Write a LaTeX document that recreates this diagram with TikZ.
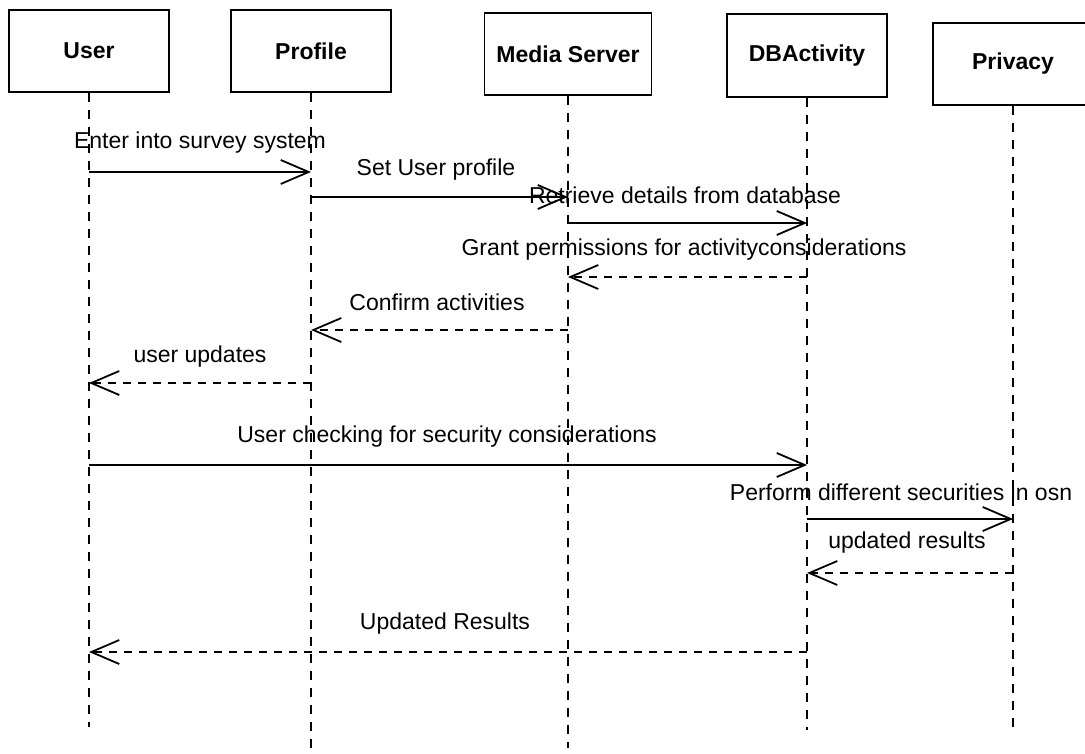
\documentclass[tikz,border=0pt]{standalone}
\usepackage{fontspec}
\setmainfont{Liberation Sans}
\usetikzlibrary{arrows.meta}
\begin{document}
\begin{tikzpicture}[x=1pt,y=-1pt,
  actor/.style={draw, line width=1.6pt, minimum width=160pt, minimum height=82pt, inner sep=0pt,
    font=\fontsize{23}{26}\selectfont\bfseries, fill=white},
  life/.style={line width=1.8pt, dash pattern=on 9pt off 8pt},
  msgtxt/.style={font=\fontsize{23}{26}\selectfont, inner sep=0pt, fill=none},
  sync/.style={line width=1.8pt, -{Straight Barb[length=28pt,width=24pt,line width=1.8pt]}},
  reply/.style={line width=1.8pt, dash pattern=on 8pt off 7pt, -{Straight Barb[length=28pt,width=24pt,line width=1.8pt]}}
]
\useasboundingbox (0,0) rectangle (1085,754);

% actors
\node[actor] (user) at (89,51) {User};
\node[actor] (prof) at (311,51) {Profile};
\node[actor, minimum width=167pt] (media) at (568,54) {Media Server};
\node[actor, minimum height=83pt] (db) at (807,55.5) {DBActivity};
\node[actor] (priv) at (1013,64) {Privacy};

% lifeline ends
\coordinate (uEnd) at (89,727);
\coordinate (pEnd) at (311,748);
\coordinate (mEnd) at (568,748);
\coordinate (dEnd) at (807,730);
\coordinate (vEnd) at (1013,733);

\draw[life] (user.south) -- (uEnd);
\draw[life] (prof.south) -- (pEnd);
\draw[life] (media.south) -- (mEnd);
\draw[life] (db.south) -- (dEnd);
\draw[life] (priv.south) -- (vEnd);

% message levels
\coordinate (m1) at (0,172);
\coordinate (m2) at (0,197);
\coordinate (m3) at (0,223);
\coordinate (m4) at (0,277);
\coordinate (m5) at (0,330);
\coordinate (m6) at (0,383);
\coordinate (m7) at (0,465);
\coordinate (m8) at (0,519);
\coordinate (m9) at (0,573);
\coordinate (m10) at (0,652);

\draw[sync] (user.south |- m1) -- (prof.south |- m1);
\draw[sync] (prof.south |- m2) -- (media.south |- m2);
\draw[sync] (media.south |- m3) -- (db.south |- m3);
\draw[reply] (db.south |- m4) -- (media.south |- m4);
\draw[reply] (media.south |- m5) -- (prof.south |- m5);
\draw[reply] (prof.south |- m6) -- (user.south |- m6);
\draw[sync] (user.south |- m7) -- (db.south |- m7);
\draw[sync] (db.south |- m8) -- (priv.south |- m8);
\draw[reply] (priv.south |- m9) -- (db.south |- m9);
\draw[reply] (db.south |- m10) -- (user.south |- m10);

% labels
\node[msgtxt] (l1) at (200,143) {Enter into survey system};
\node[msgtxt] (l2) at (436,170) {Set User profile};
\node[msgtxt] (l3) at (685,195) {Retrieve details from database};
\node[msgtxt] (l4) at (684,250) {Grant permissions for activityconsiderations};
\node[msgtxt] (l5) at (437,302) {Confirm activities};
\node[msgtxt] (l6) at (200,357) {user updates};
\node[msgtxt] (l7) at (447,437) {User checking for security considerations};
\node[msgtxt] (l8) at (901,492) {Perform different securities in osn};
\node[msgtxt] (l9) at (907,543) {updated results};
\node[msgtxt] (l10) at (445,624) {Updated Results};
\end{tikzpicture}
\end{document}
